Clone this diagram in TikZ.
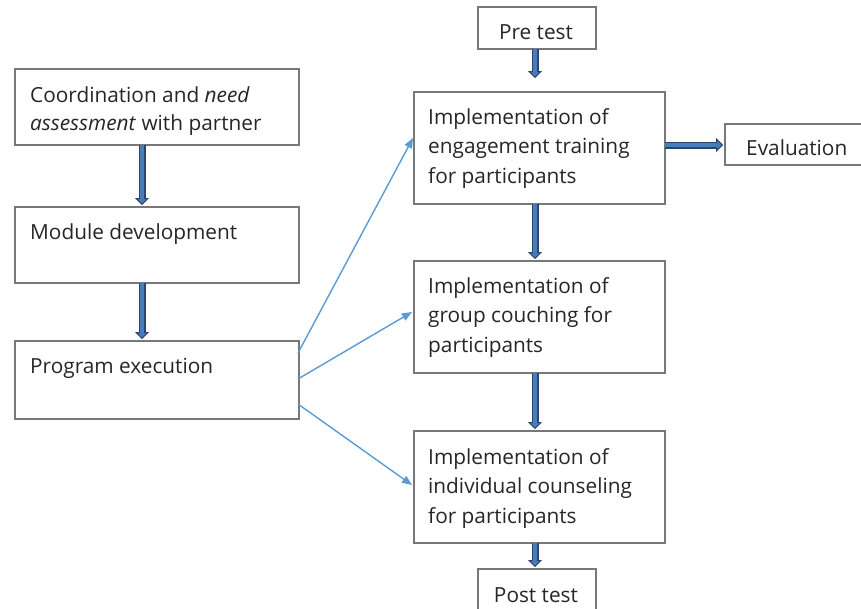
\documentclass[tikz,border=0pt]{standalone}
\usepackage{fontspec}
\setmainfont{Open Sans}
\usetikzlibrary{arrows.meta}
\definecolor{boxline}{RGB}{120,120,120}
\definecolor{thickblue}{RGB}{74,126,187}
\definecolor{thickedge}{RGB}{44,70,110}
\definecolor{thinblue}{RGB}{91,155,213}
\tikzset{
  box/.style={draw=boxline, line width=1.5pt, fill=white, rectangle, inner sep=0pt, anchor=north west},
  txt/.style={anchor=base west, inner sep=0pt, align=left, font=\fontsize{20.8}{29.5}\selectfont, text=black!85},
  txtc/.style={anchor=base west, inner sep=0pt, align=left, font=\fontsize{20.8}{28}\selectfont, text=black!85},
  ctxt/.style={anchor=base, inner sep=0pt, font=\fontsize{20.8}{24}\selectfont, text=black!85},
  fat/.style={draw=thickedge, line width=7pt,
              -{Triangle[length=7pt,width=14pt,line width=1pt,fill=thickblue]},
              postaction={draw=thickblue, line width=4.4pt, shorten >=6.5pt, -}},
  thin/.style={draw=thinblue, line width=1.4pt, -{Triangle[length=10pt,width=8pt]}}
}
\begin{document}
\begin{tikzpicture}[x=1pt,y=-1pt]
\useasboundingbox (0,0) rectangle (861,608);
% boxes
\node[box, minimum width=118pt, minimum height=42pt] (pre) at (477,6) {};
\node[ctxt] (pret) at (536,39) {Pre test};
\node[box, minimum width=284pt, minimum height=76pt] (coord) at (14,68) {};
\node[txtc] (coordt) at (30,130) {Coordination and \textit{need}\\\textit{assessment} with partner};
\node[box, minimum width=284pt, minimum height=76pt] (mod) at (14,206) {};
\node[txt] (modt) at (30,239) {Module development};
\node[box, minimum width=284pt, minimum height=78pt] (prog) at (14,340) {};
\node[txt] (progt) at (30,373) {Program execution};
\node[box, minimum width=251pt, minimum height=112pt] (eng) at (413,91) {};
\node[txt] (engt) at (428,183) {Implementation of\\engagement training\\for participants};
\node[box, minimum width=140pt, minimum height=41pt] (eval) at (724,123) {};
\node[ctxt, anchor=base west] (evalt) at (746,155) {Evaluation};
\node[box, minimum width=251pt, minimum height=112pt] (grp) at (413,260) {};
\node[txt] (grpt) at (428,352) {Implementation of\\group couching for\\participants};
\node[box, minimum width=251pt, minimum height=112pt] (ind) at (413,430) {};
\node[txt] (indt) at (428,523) {Implementation of\\individual counseling\\for participants};
\node[box, minimum width=118pt, minimum height=44pt] (post) at (477,568) {};
\node[ctxt] (postt) at (536,602) {Post test};
% thick arrows
\coordinate (a1s) at (142,145); \coordinate (a1e) at (142,205);
\draw[fat] (a1s) -- (a1e);
\coordinate (a2s) at (142,283); \coordinate (a2e) at (142,339);
\draw[fat] (a2s) -- (a2e);
\coordinate (a3s) at (535,49); \coordinate (a3e) at (535,78);
\draw[fat] (a3s) -- (a3e);
\coordinate (a4s) at (535,204); \coordinate (a4e) at (535,259);
\draw[fat] (a4s) -- (a4e);
\coordinate (a5s) at (535,373); \coordinate (a5e) at (535,429);
\draw[fat] (a5s) -- (a5e);
\coordinate (a6s) at (535,543); \coordinate (a6e) at (535,567);
\draw[fat] (a6s) -- (a6e);
\coordinate (a7s) at (665,145); \coordinate (a7e) at (723,145);
\draw[fat] (a7s) -- (a7e);
% thin arrows
\coordinate (p1) at (298,353); \coordinate (e1) at (413,138);
\coordinate (p2) at (298,379); \coordinate (e2) at (412,312);
\coordinate (p3) at (298,404); \coordinate (e3) at (412,485);
\draw[thin] (p1) -- (e1);
\draw[thin] (p2) -- (e2);
\draw[thin] (p3) -- (e3);
\end{tikzpicture}
\end{document}
